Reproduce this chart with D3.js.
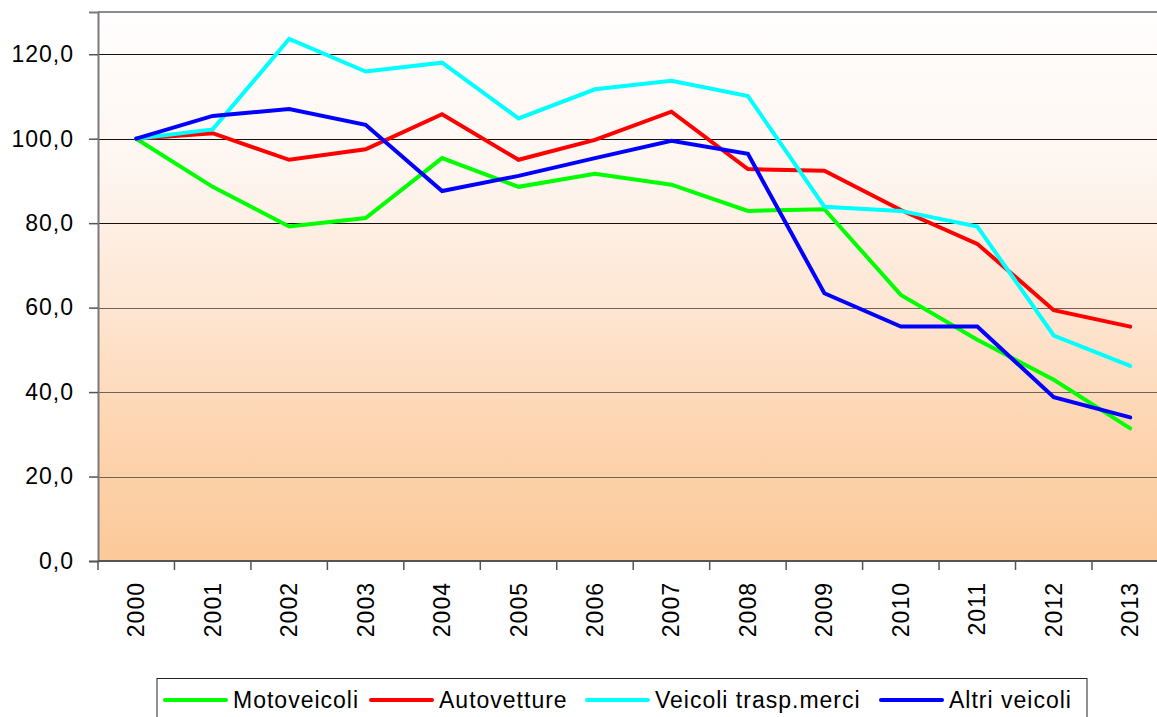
<!DOCTYPE html>
<html>
<head>
<meta charset="utf-8">
<script src="https://cdn.jsdelivr.net/npm/d3@7"></script>
<style>
  html, body { margin: 0; padding: 0; background: #fff; overflow: hidden; }
  svg { display: block; }
  text { font-family: "Liberation Sans", Arial, sans-serif; fill: #000; }
</style>
</head>
<body>
<svg id="chart" width="1157" height="717"></svg>
<script>
const years = ["2000","2001","2002","2003","2004","2005","2006","2007","2008","2009","2010","2011","2012","2013"];
const seriesNames = ["Motoveicoli", "Autovetture", "Veicoli trasp.merci", "Altri veicoli"];
const seriesColors = ["#00ff00", "#ff0000", "#00ffff", "#0000ff"];
const motoveicoli = [100, 88.6, 79.2, 81.2, 95.4, 88.6, 91.7, 89.1, 82.9, 83.3, 63.0, 52.4, 42.9, 31.4];
const autovetture = [100, 101.3, 95.0, 97.5, 105.8, 95.0, 99.7, 106.4, 92.8, 92.4, 83.1, 75.1, 59.4, 55.5];
const veicoliMerci = [100, 102.2, 123.6, 115.9, 118.0, 104.8, 111.7, 113.7, 110.1, 83.9, 82.9, 79.2, 53.4, 46.2];
const altriVeicoli = [100, 105.4, 107.0, 103.3, 87.6, 91.2, 95.4, 99.5, 96.4, 63.4, 55.5, 55.5, 38.8, 34.0];
const yTicks = [0, 20, 40, 60, 80, 100, 120];
const yMax = 130;

const seriesData = [motoveicoli, autovetture, veicoliMerci, altriVeicoli];

(function () {
const svg = d3.select("#chart");
const pLeft = 98, pTop = 12, pBottom = 561, catW = 76.46;
const pRight = pLeft + catW * years.length;

const x = d3.scaleBand().domain(years).range([pLeft, pRight]).padding(0);
const y = d3.scaleLinear().domain([0, yMax]).range([pBottom, pTop]);

// Background gradient
const defs = svg.append("defs");
const grad = defs.append("linearGradient").attr("id", "bg").attr("x1", 0).attr("y1", 0).attr("x2", 0).attr("y2", 1);
grad.append("stop").attr("offset", "0").attr("stop-color", "#fffefe");
grad.append("stop").attr("offset", "0.3").attr("stop-color", "#fef5ef");
grad.append("stop").attr("offset", "0.55").attr("stop-color", "#fee5d1");
grad.append("stop").attr("offset", "0.75").attr("stop-color", "#fdd6b2");
grad.append("stop").attr("offset", "1").attr("stop-color", "#fbc999");

svg.append("rect").attr("x", pLeft).attr("y", pTop).attr("width", pRight - pLeft).attr("height", pBottom - pTop).attr("fill", "url(#bg)");

// Gridlines
svg.append("g").selectAll("line").data(yTicks.filter(d => d > 0)).join("line")
  .attr("x1", pLeft).attr("x2", pRight)
  .attr("y1", d => Math.round(y(d)) + 0.5).attr("y2", d => Math.round(y(d)) + 0.5)
  .attr("stroke", d => d <= 60 ? "#6e625a" : "#111")
  .attr("stroke-width", 1);

// Top border
svg.append("line").attr("x1", pLeft).attr("x2", pRight).attr("y1", pTop).attr("y2", pTop)
  .attr("stroke", "#8c8c8c").attr("stroke-width", 2);

// Y axis
const yAxis = d3.axisLeft(y).tickValues(yTicks).tickSize(9).tickPadding(15)
  .tickFormat(d => d3.format(".1f")(d).replace(".", ","));
const gy = svg.append("g").attr("transform", `translate(${pLeft},0)`).call(yAxis);
gy.select(".domain").attr("stroke", "#7a7a7a").attr("stroke-width", 2);
gy.selectAll(".tick line").attr("stroke", "#555").attr("stroke-width", 1.5);
gy.selectAll(".tick text").style("font-size", "23px").style("letter-spacing", "1px")
  .style("font-family", "'Liberation Sans', Arial, sans-serif").attr("fill", "#000");

// X axis: tick marks at category boundaries
const gx = svg.append("g");
gx.append("line").attr("x1", pLeft).attr("x2", pRight).attr("y1", pBottom).attr("y2", pBottom)
  .attr("stroke", "#555").attr("stroke-width", 2);
gx.selectAll("line.tk").data(years).join("line").attr("class", "tk")
  .attr("x1", d => x(d)).attr("x2", d => x(d)).attr("y1", pBottom).attr("y2", pBottom + 9)
  .attr("stroke", "#555").attr("stroke-width", 1.5);
gx.selectAll("text").data(years).join("text")
  .attr("transform", d => `translate(${x(d) + x.bandwidth() / 2 + 8},582) rotate(-90)`)
  .attr("text-anchor", "end")
  .style("font-size", "23px").style("letter-spacing", "1px")
  .text(d => d);

// Lines
const line = d3.line().x((d, i) => x(years[i]) + x.bandwidth() / 2).y(d => y(d));
svg.append("g").selectAll("path").data(seriesData).join("path")
  .attr("d", d => line(d))
  .attr("fill", "none")
  .attr("stroke", (d, i) => seriesColors[i])
  .attr("stroke-width", 4)
  .attr("stroke-linejoin", "miter")
  .attr("stroke-linecap", "round");

// Legend
const lg = svg.append("g");
lg.append("rect").attr("x", 157).attr("y", 678.5).attr("width", 930).attr("height", 50)
  .attr("fill", "#fff").attr("stroke", "#222").attr("stroke-width", 1);
const legendX = [165, 371, 587, 881];
seriesNames.forEach((name, i) => {
  lg.append("line").attr("x1", legendX[i]).attr("x2", legendX[i] + 61)
    .attr("y1", 700).attr("y2", 700)
    .attr("stroke", seriesColors[i]).attr("stroke-width", 4).attr("stroke-linecap", "round");
  lg.append("text").attr("x", legendX[i] + 68).attr("y", 708)
    .style("font-size", "23px").style("letter-spacing", "1px")
    .text(name);
});
})();
</script>
</body>
</html>
